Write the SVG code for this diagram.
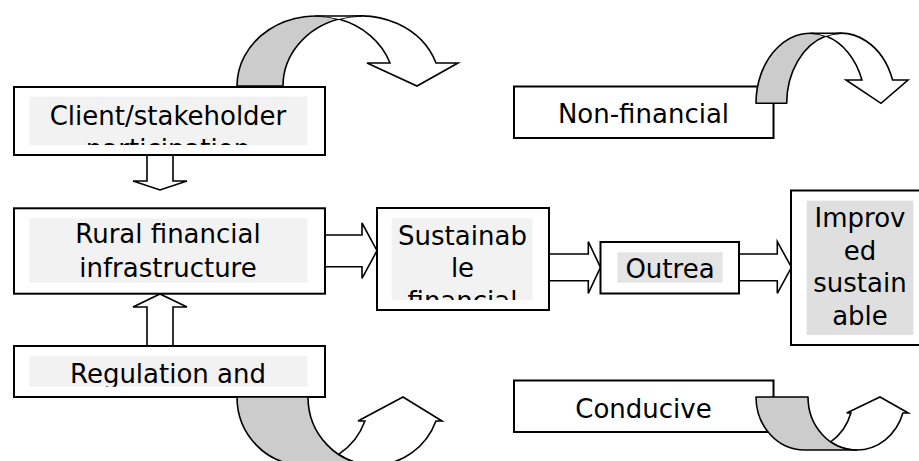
<svg xmlns="http://www.w3.org/2000/svg" width="919" height="461" viewBox="0 0 919 461">
<style>
.box{fill:#ffffff;stroke:#000;stroke-width:2}
.bg1{fill:#f2f2f2}
.bg2{fill:#e4e4e4}
.bg3{fill:#dfdfdf}
.t{font-family:"DejaVu Sans","Liberation Sans",sans-serif;font-size:26px;fill:#000;text-anchor:middle}
.blk{fill:#ffffff;stroke:#000;stroke-width:1.6;stroke-linejoin:miter}
.shade{fill:#cccccc;stroke:#000;stroke-width:1.6;stroke-linejoin:round}
.curw{fill:#ffffff;stroke:#000;stroke-width:1.6;stroke-linejoin:miter}
.fill{fill:#ffffff;stroke:none}
.edge{fill:none;stroke:#000;stroke-width:1.6}
</style>
<defs>
<clipPath id="cClient"><rect x="29.3" y="96.7" width="278" height="48.3"/></clipPath>
<clipPath id="cSust"><rect x="391.7" y="218.3" width="141" height="81.7"/></clipPath>
<clipPath id="cReg"><rect x="29.3" y="356" width="278" height="30.7"/></clipPath>
</defs>

<g id="connectors">
<path class="blk" d="M147,150 L147,181 L133,181 L160,190 L187,181 L173,181 L173,150"/>
<path class="blk" d="M147,351 L147,307 L133,307 L160,294 L187,307 L173,307 L173,351"/>
<path class="blk" d="M320,235 L362,235 L362,223 L377,250.7 L362,278.3 L362,266.7 L320,266.7"/>
<path class="blk" d="M544,254 L588.3,254 L588.3,241.7 L600.5,267.3 L588.3,293.3 L588.3,280.7 L544,280.7"/>
<path class="blk" d="M734,254 L777.3,254 L777.3,241.7 L791.5,267.3 L777.3,293.3 L777.3,280.7 L734,280.7"/>
</g>

<g id="node-client">
<path class="shade" d="M237,86 A78.7,70 0 0 1 338.7,19.06 A78.7,70 0 0 0 283,86 Z"/>
<path class="curw" d="M338.7,19.06 A78.7,70 0 0 1 436,63 L458,63 L417,86 L367,63 L390,63 A78.7,70 0 0 0 338.7,19.06 Z"/>
<path class="fill" d="M315.7,16 L361.7,16 A78.7,70 0 0 0 338.7,19.06 A78.7,70 0 0 0 315.7,16 Z"/>
<path class="edge" d="M315.7,16 L361.7,16"/>
<rect class="box" x="14" y="87" width="311" height="68"/>
<rect class="bg1" x="29.3" y="96.7" width="278" height="48.3"/>
<g clip-path="url(#cClient)">
<text class="t" x="168" y="124.5">Client/stakeholder</text>
<text class="t" x="168" y="157.5">participation</text>
</g>
</g>

<g id="node-rural">
<rect class="box" x="14" y="208.3" width="311" height="85.4"/>
<rect class="bg1" x="29.3" y="218.3" width="278" height="64.4"/>
<text class="t" x="168" y="243.3">Rural financial</text>
<text class="t" x="168" y="276.7">infrastructure</text>
</g>

<g id="node-regulation">
<rect class="box" x="14" y="346" width="311" height="51"/>
<rect class="bg1" x="29.3" y="356" width="278" height="30.7"/>
<g clip-path="url(#cReg)">
<text class="t" x="168" y="382.7">Regulation and</text>
</g>
<path class="curw" d="M374.1,465 A66.1,68 0 0 0 435.95,421 L442,421 L403,397 L358,421 L364.95,421 A66.1,68 0 0 1 338.6,454.4 A66.1,68 0 0 0 374.1,465 Z"/>
<path class="shade" d="M237,397 A66.1,68 0 0 0 303.1,465 L374.1,465 A66.1,68 0 0 1 308,397 Z"/>
</g>

<g id="node-sustainable">
<rect class="box" x="377" y="208" width="172" height="102"/>
<rect class="bg1" x="391.7" y="218.3" width="141" height="81.7"/>
<g clip-path="url(#cSust)">
<text class="t" x="462.5" y="245">Sustainab</text>
<text class="t" x="462.5" y="277">le</text>
<text class="t" x="462.5" y="309.5">financial</text>
</g>
</g>

<g id="node-outreach">
<rect class="box" x="600.5" y="242" width="138.5" height="51.5"/>
<rect class="bg2" x="617.3" y="252.3" width="105.4" height="30.4"/>
<text class="t" x="670" y="278.3">Outrea</text>
</g>

<g id="node-improved">
<rect class="box" x="791" y="190.5" width="140" height="154.5"/>
<rect class="bg3" x="806.7" y="200.7" width="106.6" height="134.3"/>
<text class="t" x="860" y="226.7">Improv</text>
<text class="t" x="860" y="259.5">ed</text>
<text class="t" x="860" y="292">sustain</text>
<text class="t" x="860" y="325">able</text>
</g>

<g id="node-nonfinancial">
<rect class="box" x="514" y="86.5" width="259.5" height="51.5"/>
<text class="t" x="643.5" y="123.3">Non-financial</text>
<path class="shade" d="M756,103.3 A54.5,70 0 0 1 825.85,36.1 A54.5,70 0 0 0 786.7,103.3 Z"/>
<path class="curw" d="M825.85,36.1 A54.5,70 0 0 1 892.6,80 L908,80 L881,103.3 L846,80 L861.9,80 A54.5,70 0 0 0 825.85,36.1 Z"/>
<path class="fill" d="M810.5,33.3 L841.2,33.3 A54.5,70 0 0 0 825.85,36.1 A54.5,70 0 0 0 810.5,33.3 Z"/>
<path class="edge" d="M810.5,33.3 L841.2,33.3"/>
</g>

<g id="node-conducive">
<rect class="box" x="514" y="380.5" width="259.5" height="51.5"/>
<text class="t" x="643.5" y="418.3">Conducive</text>
<path class="curw" d="M856.6,450 A48.6,53 0 0 0 902.9,413 L908.3,413 L880,397 L846.7,413 L850.9,413 A48.6,53 0 0 1 830.6,441.8 A48.6,53 0 0 0 856.6,450 Z"/>
<path class="shade" d="M756,397 A48.6,53 0 0 0 804.6,450 L856.6,450 A48.6,53 0 0 1 808,397 Z"/>
</g>
</svg>
